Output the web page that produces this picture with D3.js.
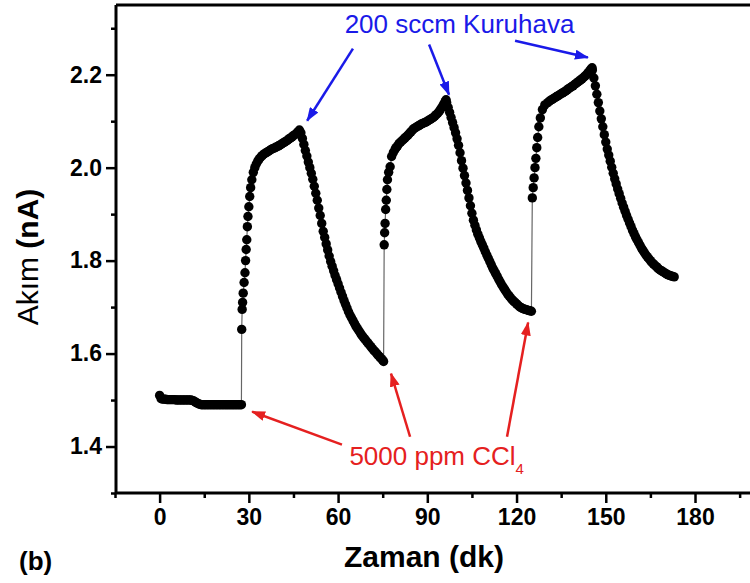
<!DOCTYPE html>
<html>
<head>
<meta charset="utf-8">
<script src="https://cdn.jsdelivr.net/npm/d3@7"></script>
<style>
  body { margin: 0; background: #fff; }
  text { font-family: "Liberation Sans", Arial, sans-serif; }
</style>
</head>
<body>
<svg width="750" height="583"></svg>
<script>
// time (dk) , current (nA)
var baseline = [
    [0, 1.510], [0.5, 1.503], [1, 1.502], [1.5, 1.502], [2, 1.502], [2.5, 1.501], [3, 1.501],
    [3.5, 1.501], [4, 1.501], [4.5, 1.501], [5, 1.501], [5.5, 1.500], [6, 1.500], [6.5, 1.500],
    [7, 1.500], [7.5, 1.500], [8, 1.500], [8.5, 1.500], [9, 1.500], [9.5, 1.500], [10, 1.500],
    [10.5, 1.500], [11, 1.499], [11.5, 1.498], [12, 1.496], [12.5, 1.494], [13, 1.492],
    [13.5, 1.491], [14, 1.490], [14.5, 1.490], [15, 1.490], [15.5, 1.490], [16, 1.490],
    [16.5, 1.490], [17, 1.490], [17.5, 1.490], [18, 1.490], [18.5, 1.490], [19, 1.490],
    [19.5, 1.490], [20, 1.490], [20.5, 1.490], [21, 1.490], [21.5, 1.490], [22, 1.490],
    [22.5, 1.490], [23, 1.490], [23.5, 1.490], [24, 1.490], [24.5, 1.490], [25, 1.490],
    [25.5, 1.490], [26, 1.490], [26.5, 1.490], [27, 1.490], [27.5, 1.490]
];
var rise1 = [
    [27.6, 1.652], [27.75, 1.695], [27.9, 1.710], [28.1, 1.730], [28.4, 1.753], [28.7, 1.774],
    [28.9, 1.800], [29.1, 1.824], [29.3, 1.845], [29.5, 1.873], [29.7, 1.895], [30.0, 1.916],
    [30.3, 1.938], [30.6, 1.957], [31.0, 1.974], [31.5, 1.990], [32.0, 2.000], [32.5, 2.008],
    [33.0, 2.014], [33.5, 2.019], [34.0, 2.023], [34.5, 2.026], [35.0, 2.029], [35.5, 2.031],
    [36.0, 2.033], [36.5, 2.035], [37.0, 2.037], [37.5, 2.039], [38.0, 2.041], [38.5, 2.042],
    [39.0, 2.044], [39.5, 2.045], [40.0, 2.047], [40.5, 2.049], [41.0, 2.051], [41.5, 2.053],
    [42.0, 2.055], [42.5, 2.057], [43.0, 2.059], [43.5, 2.062], [44.0, 2.064], [44.5, 2.066],
    [45.0, 2.069], [45.5, 2.071], [46.0, 2.074], [46.5, 2.077], [47.0, 2.081]
];
var decay1 = [
    [47.5, 2.075], [48.0, 2.063], [48.5, 2.050], [49.0, 2.037], [49.5, 2.025], [50.0, 2.012],
    [50.5, 2.000], [51.0, 1.988], [51.5, 1.975], [52.0, 1.960], [52.5, 1.945], [53.0, 1.930],
    [53.5, 1.913], [54.0, 1.897], [54.5, 1.880], [55.0, 1.863], [55.5, 1.850], [56.0, 1.836],
    [56.5, 1.823], [57.0, 1.810], [57.5, 1.798], [58.0, 1.788], [58.5, 1.778], [59.0, 1.768],
    [59.5, 1.759], [60.0, 1.750], [60.5, 1.741], [61.0, 1.732], [61.5, 1.723], [62.0, 1.714],
    [62.5, 1.706], [63.0, 1.698], [63.5, 1.690], [64.0, 1.683], [64.5, 1.677], [65.0, 1.671],
    [65.5, 1.665], [66.0, 1.659], [66.5, 1.654], [67.0, 1.649], [67.5, 1.644], [68.0, 1.639],
    [68.5, 1.635], [69.0, 1.631], [69.5, 1.627], [70.0, 1.623], [70.5, 1.619], [71.0, 1.615],
    [71.5, 1.611], [72.0, 1.607], [72.5, 1.604], [73.0, 1.600], [73.5, 1.596], [74.0, 1.593],
    [74.5, 1.589], [75.0, 1.586], [75.3, 1.583]
];
var rise2 = [
    [75.5, 1.834], [75.65, 1.860], [75.8, 1.880], [76.0, 1.910], [76.2, 1.930], [76.4, 1.953],
    [76.6, 1.974], [77.0, 1.990], [77.5, 2.002], [78.0, 2.024], [78.6, 2.033], [79.2, 2.040],
    [79.5, 2.043], [80.0, 2.047], [80.5, 2.052], [81.0, 2.055], [81.5, 2.058], [82.0, 2.061],
    [82.5, 2.064], [83.0, 2.067], [83.5, 2.070], [84.0, 2.074], [84.5, 2.077], [85.0, 2.081],
    [85.5, 2.084], [86.0, 2.086], [86.5, 2.088], [87.0, 2.090], [87.5, 2.092], [88.0, 2.094],
    [88.5, 2.095], [89.0, 2.097], [89.5, 2.098], [90.0, 2.100], [90.5, 2.102], [91.0, 2.104],
    [91.5, 2.106], [92.0, 2.108], [92.5, 2.111], [93.0, 2.114], [93.5, 2.117], [94.0, 2.121],
    [94.5, 2.126], [95.0, 2.131], [95.5, 2.137], [96.0, 2.142], [96.3, 2.146]
];
var decay2 = [
    [96.5, 2.140], [97.0, 2.130], [97.5, 2.119], [98.0, 2.108], [98.5, 2.097], [99.0, 2.086],
    [99.5, 2.075], [100.0, 2.062], [100.5, 2.048], [101.0, 2.032], [101.5, 2.015], [102.0, 1.999],
    [102.5, 1.983], [103.0, 1.967], [103.5, 1.951], [104.0, 1.935], [104.5, 1.918], [105.0, 1.902],
    [105.5, 1.887], [106.0, 1.876], [106.5, 1.866], [107.0, 1.857], [107.5, 1.849], [108.0, 1.841],
    [108.5, 1.834], [109.0, 1.827], [109.5, 1.819], [110.0, 1.812], [110.5, 1.805], [111.0, 1.798],
    [111.5, 1.791], [112.0, 1.784], [112.5, 1.778], [113.0, 1.772], [113.5, 1.766], [114.0, 1.760],
    [114.5, 1.754], [115.0, 1.748], [115.5, 1.743], [116.0, 1.738], [116.5, 1.733], [117.0, 1.728],
    [117.5, 1.724], [118.0, 1.720], [118.5, 1.716], [119.0, 1.713], [119.5, 1.710], [120.0, 1.707],
    [120.5, 1.704], [121.0, 1.701], [121.5, 1.699], [122.0, 1.697], [122.5, 1.696], [123.0, 1.695],
    [123.5, 1.694], [124.0, 1.693], [124.5, 1.692], [125.0, 1.691]
];
var rise3 = [
    [125.3, 1.935], [125.6, 1.957], [125.9, 1.978], [126.2, 2.000], [126.5, 2.020], [126.8, 2.043],
    [127.1, 2.065], [127.5, 2.088], [128.0, 2.107], [128.7, 2.125], [129.5, 2.135], [130.5, 2.140],
    [131.0, 2.143], [131.5, 2.145], [132.0, 2.147], [132.5, 2.149], [133.0, 2.151], [133.5, 2.153],
    [134.0, 2.155], [134.5, 2.157], [135.0, 2.159], [135.5, 2.161], [136.0, 2.163], [136.5, 2.165],
    [137.0, 2.167], [137.5, 2.170], [138.0, 2.172], [138.5, 2.174], [139.0, 2.176], [139.5, 2.179],
    [140.0, 2.181], [140.5, 2.184], [141.0, 2.186], [141.5, 2.189], [142.0, 2.191], [142.5, 2.194],
    [143.0, 2.197], [143.5, 2.200], [144.0, 2.204], [144.5, 2.208], [145.0, 2.212], [145.4, 2.215]
];
var decay3 = [
    [145.5, 2.210], [146.0, 2.193], [146.5, 2.176], [147.0, 2.158], [147.5, 2.140], [148.0, 2.122],
    [148.5, 2.105], [149.0, 2.088], [149.5, 2.071], [150.0, 2.055], [150.5, 2.040], [151.0, 2.027],
    [151.5, 2.014], [152.0, 2.001], [152.5, 1.988], [153.0, 1.976], [153.5, 1.965], [154.0, 1.954],
    [154.5, 1.944], [155.0, 1.934], [155.5, 1.924], [156.0, 1.915], [156.5, 1.906], [157.0, 1.897],
    [157.5, 1.889], [158.0, 1.881], [158.5, 1.873], [159.0, 1.865], [159.5, 1.858], [160.0, 1.851],
    [160.5, 1.845], [161.0, 1.839], [161.5, 1.833], [162.0, 1.827], [162.5, 1.822], [163.0, 1.817],
    [163.5, 1.812], [164.0, 1.808], [164.5, 1.804], [165.0, 1.800], [165.5, 1.796], [166.0, 1.793],
    [166.5, 1.790], [167.0, 1.787], [167.5, 1.784], [168.0, 1.781], [168.5, 1.779], [169.0, 1.777],
    [169.5, 1.775], [170.0, 1.773], [170.5, 1.771], [171.0, 1.769], [171.5, 1.768], [172.0, 1.767],
    [172.5, 1.766], [173.0, 1.765]
];

var xMajor = [0, 30, 60, 90, 120, 150, 180];
var xMinor = [-15, 15, 45, 75, 105, 135, 165, 195];
var yMajor = [1.4, 1.6, 1.8, 2.0, 2.2];
var yMinor = [1.3, 1.5, 1.7, 1.9, 2.1, 2.3];

// annotation arrows in data units: [fromT, fromV, toT, toV]
var kuruArrows = [[65.0, 2.256, 49.6, 2.101], [90.6, 2.265, 97.3, 2.157], [119.5, 2.273, 144.0, 2.237]];
var cclArrows = [[61.3, 1.404, 31.1, 1.475], [84.2, 1.421, 77.8, 1.557], [116.8, 1.421, 123.9, 1.667]];

var svg = d3.select("svg");

var x = d3.scaleLinear().domain([-15, 200]).range([115, 754.5]);
var y = d3.scaleLinear().domain([1.3, 2.35]).range([493, 5]);

var points = baseline.concat(rise1, decay1, rise2, decay2, rise3, decay3);

// thin connecting line (visible on the jumps)
svg.append("path")
    .datum(points)
    .attr("fill", "none")
    .attr("stroke", "#666")
    .attr("stroke-width", 1.2)
    .attr("d", d3.line().x(function (d) { return x(d[0]); }).y(function (d) { return y(d[1]); }));

svg.append("g")
    .selectAll("circle")
    .data(points)
    .enter().append("circle")
    .attr("cx", function (d) { return x(d[0]); })
    .attr("cy", function (d) { return y(d[1]); })
    .attr("r", 4.7)
    .attr("fill", "#000");

// axes
function styleAxis(g) {
    g.select(".domain").remove();
    g.selectAll(".tick line").attr("stroke", "#000").attr("stroke-width", 2.5);
    g.selectAll(".tick text")
        .attr("fill", "#000")
        .style("font-size", "23px")
        .style("font-weight", "bold");
}

svg.append("g")
    .attr("transform", "translate(0,493)")
    .call(d3.axisBottom(x).tickValues(xMajor).tickSize(10).tickPadding(6).tickFormat(d3.format("d")))
    .call(styleAxis);
svg.append("g")
    .attr("transform", "translate(0,493)")
    .call(d3.axisBottom(x).tickValues(xMinor).tickSize(5).tickFormat(""))
    .call(styleAxis);
svg.append("g")
    .attr("transform", "translate(116,0)")
    .call(d3.axisLeft(y).tickValues(yMajor).tickSize(10).tickPadding(4).tickFormat(d3.format(".1f")))
    .call(styleAxis);
svg.append("g")
    .attr("transform", "translate(116,0)")
    .call(d3.axisLeft(y).tickValues(yMinor).tickSize(5).tickFormat(""))
    .call(styleAxis);

// frame
svg.append("path")
    .attr("d", "M116,5 L116,493 L760,493 M116,5 L760,5")
    .attr("fill", "none")
    .attr("stroke", "#000")
    .attr("stroke-width", 3);

// axis titles
svg.append("text")
    .attr("x", 424)
    .attr("y", 567)
    .attr("text-anchor", "middle")
    .style("font-size", "30px")
    .style("font-weight", "bold")
    .text("Zaman (dk)");

var ytitle = svg.append("text")
    .attr("transform", "translate(38,257) rotate(-90)")
    .attr("text-anchor", "middle")
    .style("font-size", "30px");
ytitle.append("tspan").text("Akım ");
ytitle.append("tspan").style("font-weight", "bold").text("(nA)");

svg.append("text")
    .attr("x", 19)
    .attr("y", 570)
    .style("font-size", "26px")
    .style("font-weight", "bold")
    .text("(b)");

// arrow markers
var defs = svg.append("defs");
[["blueHead", "#1a1ae8"], ["redHead", "#e52020"]].forEach(function (m) {
    defs.append("marker")
        .attr("id", m[0])
        .attr("markerUnits", "userSpaceOnUse")
        .attr("markerWidth", 14)
        .attr("markerHeight", 10)
        .attr("refX", 13)
        .attr("refY", 5)
        .attr("orient", "auto")
        .append("path")
        .attr("d", "M0,0 L14,5 L0,10 Z")
        .attr("fill", m[1]);
});

function drawArrows(list, color, head) {
    svg.append("g")
        .selectAll("line")
        .data(list)
        .enter().append("line")
        .attr("x1", function (d) { return x(d[0]); })
        .attr("y1", function (d) { return y(d[1]); })
        .attr("x2", function (d) { return x(d[2]); })
        .attr("y2", function (d) { return y(d[3]); })
        .attr("stroke", color)
        .attr("stroke-width", 2.5)
        .attr("marker-end", "url(#" + head + ")");
}
drawArrows(kuruArrows, "#1a1ae8", "blueHead");
drawArrows(cclArrows, "#e52020", "redHead");

svg.append("text")
    .attr("x", x(62.2))
    .attr("y", y(2.29))
    .attr("fill", "#1a1ae8")
    .style("font-size", "26px")
    .text("200 sccm Kuruhava");

var ccl = svg.append("text")
    .attr("x", x(63.8))
    .attr("y", y(1.361))
    .attr("fill", "#e52020")
    .style("font-size", "26px");
ccl.append("tspan").text("5000 ppm CCl");
ccl.append("tspan").attr("dy", 9).style("font-size", "15px").text("4");
</script>
</body>
</html>
